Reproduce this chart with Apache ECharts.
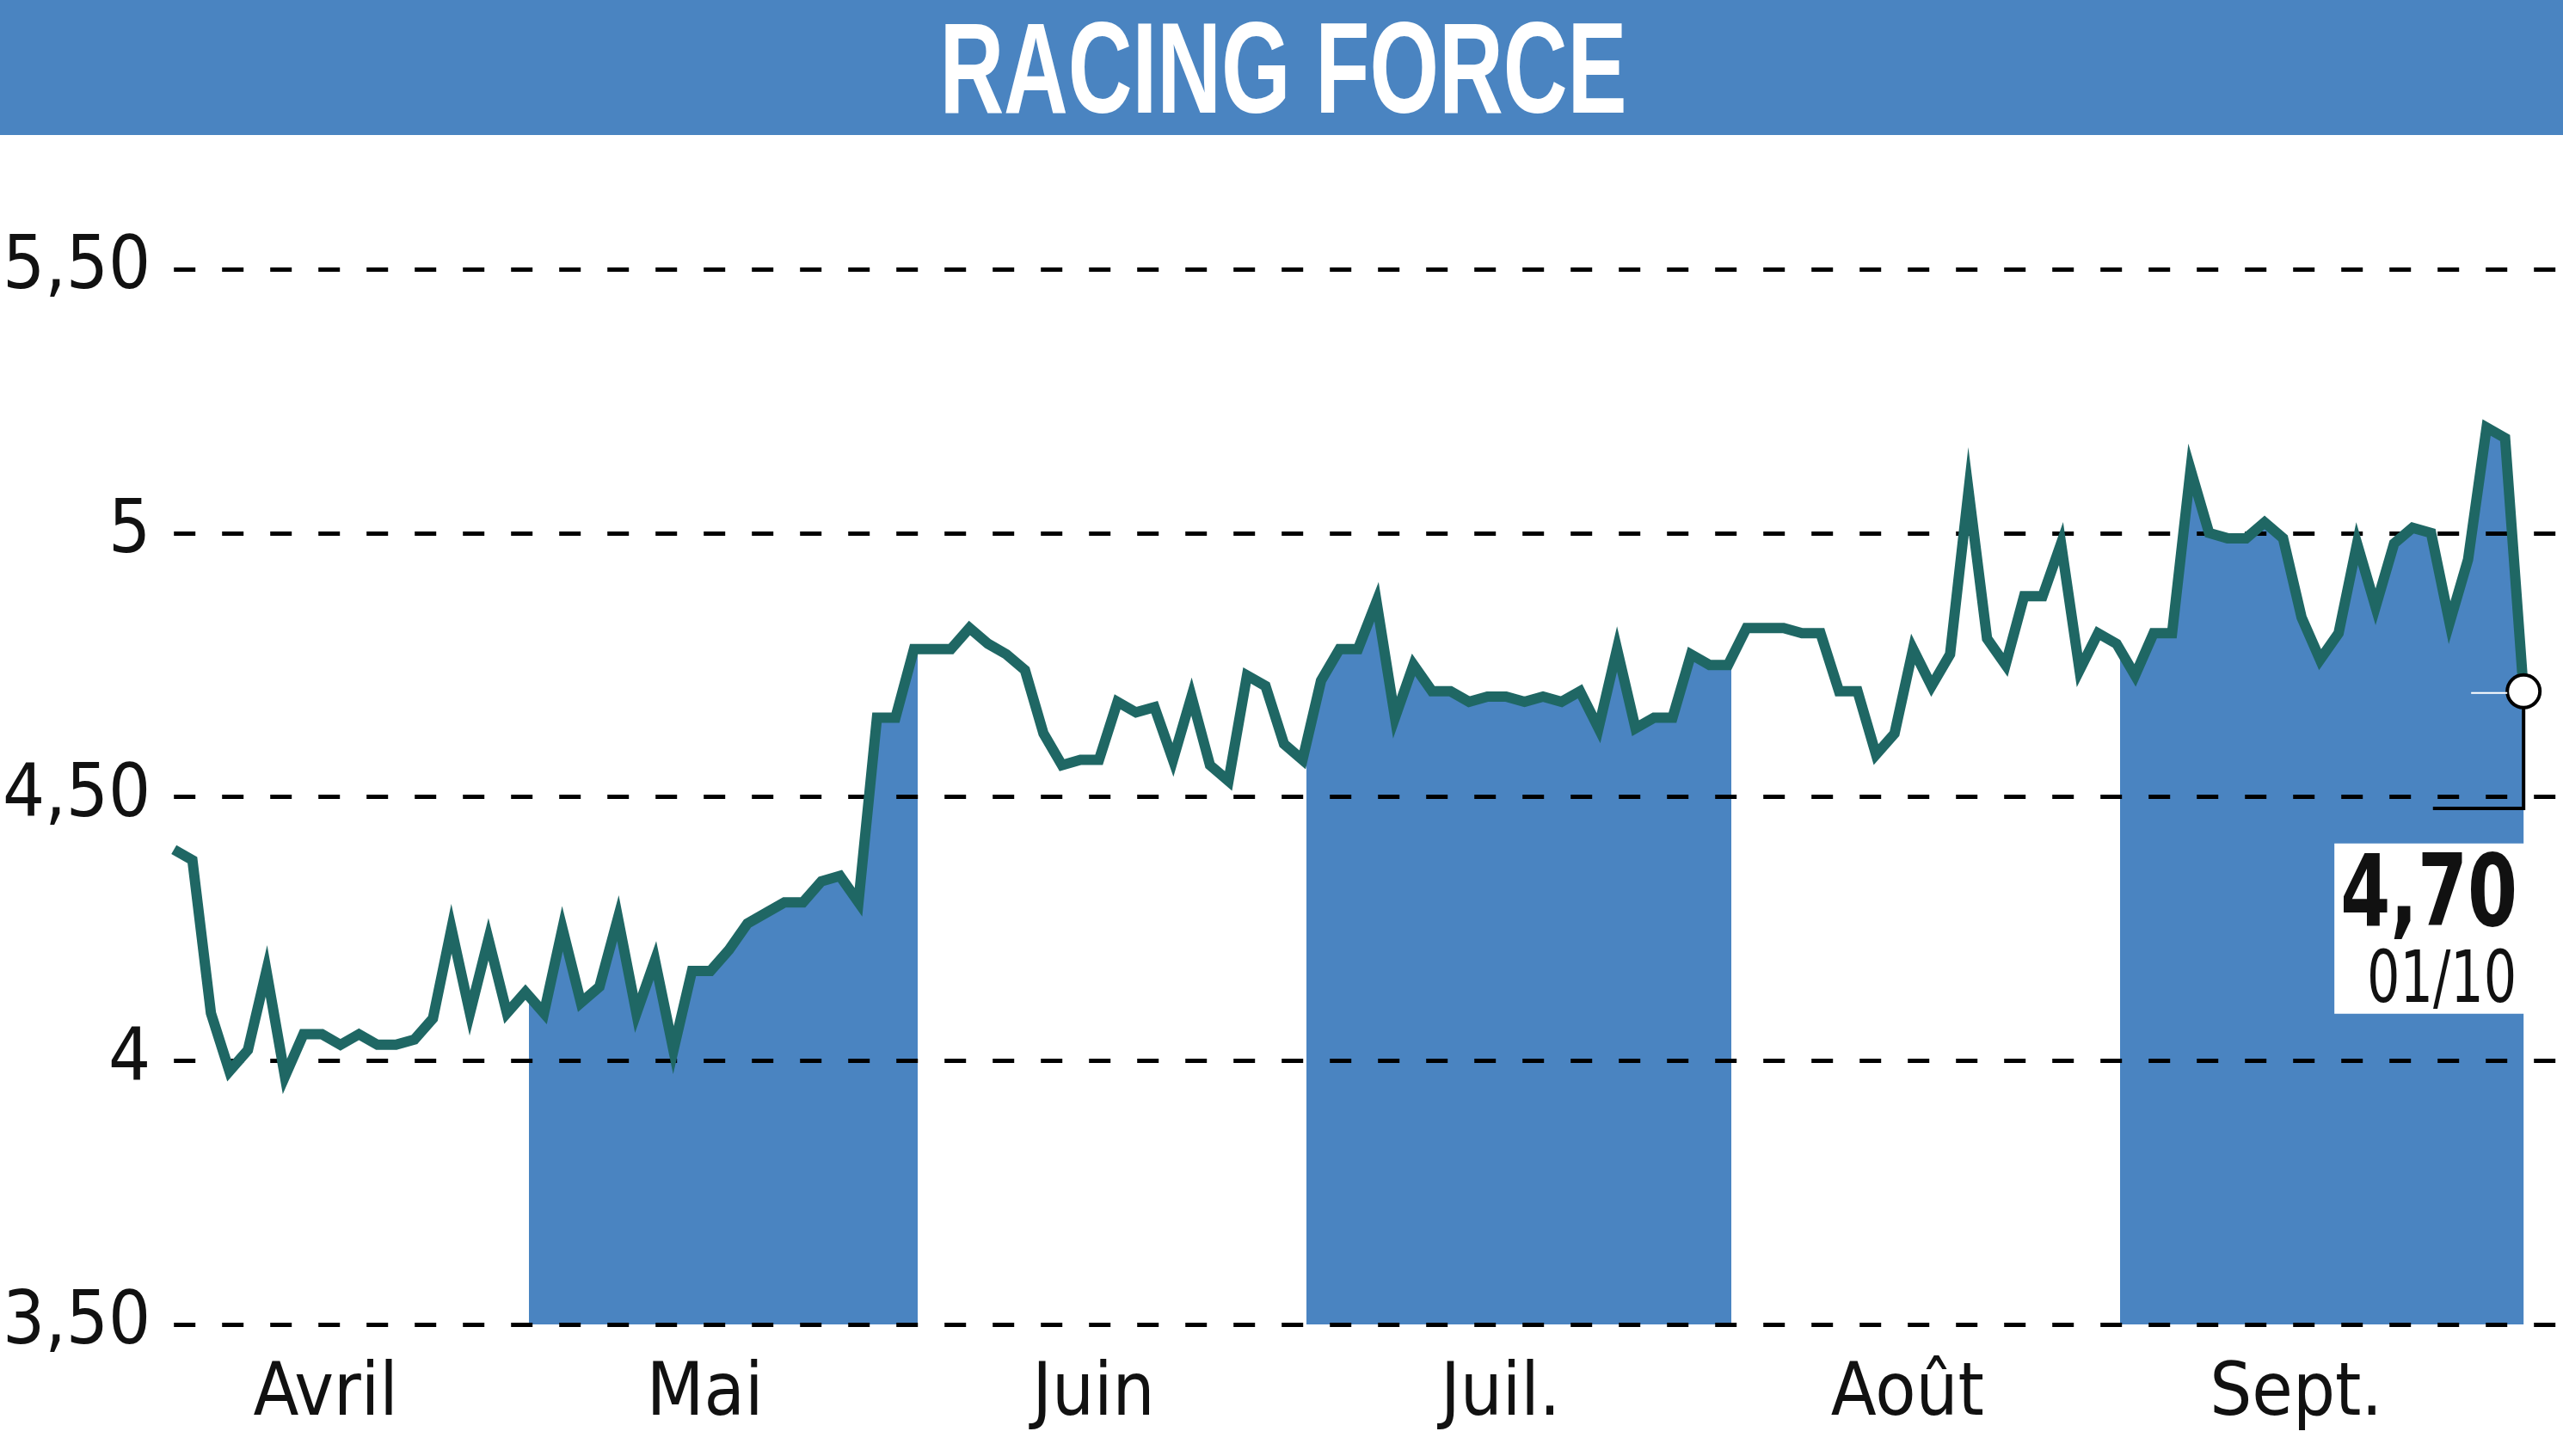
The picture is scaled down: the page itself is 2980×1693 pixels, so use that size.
<!DOCTYPE html>
<html>
<head>
<meta charset="utf-8">
<script src="https://cdn.jsdelivr.net/npm/echarts@6/dist/echarts.min.js"></script>
<style>
html,body{margin:0;padding:0;background:#fff;}
#chart{width:2980px;height:1693px;}
</style>
</head>
<body>
<div id="chart"></div>
<script>
// ---- data (daily closes) ----
const title = 'RACING FORCE';
const monthNames = ['Avril', 'Mai', 'Juin', 'Juil.', 'Août', 'Sept.'];
const april = [4.40, 4.38, 4.09, 3.98, 4.02, 4.17, 3.97, 4.05, 4.05, 4.03, 4.05, 4.03, 4.03, 4.04, 4.08, 4.25, 4.09, 4.23, 4.09, 4.13];
const may = [4.09, 4.25, 4.11, 4.14, 4.27, 4.09, 4.19, 4.02, 4.17, 4.17, 4.21, 4.26, 4.28, 4.30, 4.30, 4.34, 4.35, 4.30, 4.65, 4.65, 4.78];
const june = [4.78, 4.78, 4.82, 4.79, 4.77, 4.74, 4.62, 4.56, 4.57, 4.57, 4.68, 4.66, 4.67, 4.57, 4.69, 4.56, 4.53, 4.73, 4.71, 4.60, 4.57];
const july = [4.72, 4.78, 4.78, 4.87, 4.65, 4.75, 4.70, 4.70, 4.68, 4.69, 4.69, 4.68, 4.69, 4.68, 4.70, 4.63, 4.78, 4.63, 4.65, 4.65, 4.77, 4.75, 4.75];
const august = [4.82, 4.82, 4.82, 4.81, 4.81, 4.70, 4.70, 4.58, 4.62, 4.78, 4.71, 4.77, 5.08, 4.80, 4.75, 4.88, 4.88, 4.98, 4.74, 4.81, 4.79];
const september = [4.73, 4.81, 4.81, 5.12, 5.00, 4.99, 4.99, 5.02, 4.99, 4.84, 4.76, 4.81, 4.98, 4.86, 4.98, 5.01, 5.00, 4.83, 4.95, 5.20, 5.18];
const october = [4.70];
const lastLabel = '4,70';
const lastDate = '01/10';
const yTicks = [3.5, 4, 4.5, 5, 5.5];
const yTickLabels = ['3,50', '4', '4,50', '5', '5,50'];

// ---- build ----
const months = [april, may, june, july, august, september, october];
const values = [].concat(...months);
const points = values.map((v, i) => [i, v]);
const starts = [];
let acc = 0;
months.forEach(m => { starts.push(acc); acc += m.length; });
const lastIdx = values.length - 1;
// shaded months: Mai, Juil., Sept. (+ final October point)
const bands = [
  [starts[1] - 0.8, starts[2] - 0.8],
  [starts[3] - 0.8, starts[4] - 0.8],
  [starts[5] - 0.8, lastIdx + 0.1]
];
const labelPos = [];
const labelMap = {};
for (let m = 0; m < 6; m++) {
  const end = (m === 5) ? starts[6] - 1 : starts[m + 1] - 1;
  const p = (starts[m] + end) / 2 - 1.3;
  labelPos.push(p);
  labelMap[p.toFixed(3)] = monthNames[m];
}

const BLUE = '#4a84c1';
const TEAL = '#1f6764';
const FONT = "'Liberation Sans Narrow', 'DejaVu Sans Condensed', 'Roboto Condensed', 'Liberation Sans', sans-serif";

const chart = echarts.init(document.getElementById('chart'), null, {renderer: 'canvas'});
const baseGraphic = [
  {type: 'rect', left: 0, top: 0, shape: {width: 2980, height: 157}, style: {fill: BLUE}, z: 10},
  {type: 'text', x: 1492, y: 90, scaleX: 0.69, z: 11,
   style: {text: title, fill: '#fff', font: "bold 150px 'Liberation Sans', sans-serif", textAlign: 'center', textVerticalAlign: 'middle'}}
];
const option = {
  animation: false,
  backgroundColor: '#fff',
  grid: {left: 192, right: 0, top: 313, bottom: 153, containLabel: false},
  xAxis: {
    type: 'value', min: 0, max: lastIdx + 2.13,
    axisLine: {show: false}, axisTick: {show: false}, splitLine: {show: false},
    axisLabel: {
      customValues: labelPos,
      formatter: v => labelMap[Number(v).toFixed(3)] || '',
      color: '#111', fontSize: 86, fontFamily: FONT, margin: 40
    }
  },
  yAxis: {
    type: 'value', min: yTicks[0], max: yTicks[yTicks.length - 1], interval: 0.5, z: 2,
    axisLine: {show: false}, axisTick: {show: false},
    splitLine: {show: true, lineStyle: {color: '#000', width: 5, type: [25, 31]}},
    axisLabel: {
      formatter: v => yTickLabels[yTicks.indexOf(Math.round(v * 100) / 100)],
      color: '#111', fontSize: 86, fontFamily: FONT, margin: 27
    }
  },
  visualMap: {
    type: 'piecewise', show: false, dimension: 0, seriesIndex: 0,
    pieces: bands.map(b => ({gte: b[0], lte: b[1], color: BLUE})),
    outOfRange: {color: 'rgba(255,255,255,0)'}
  },
  series: [
    {
      type: 'line', data: points, z: 1, symbol: 'none', silent: true,
      lineStyle: {width: 0, opacity: 0},
      areaStyle: {opacity: 1, origin: 'start'}
    },
    {
      type: 'line', z: 3, symbol: 'none', showSymbol: true,
      data: points.map((p, i) => i === lastIdx ? {value: p, symbol: 'circle', symbolSize: 38, itemStyle: {color: '#fff', borderColor: '#000', borderWidth: 4}} : p),
      lineStyle: {color: TEAL, width: 12, join: 'miter'},
      itemStyle: {color: TEAL}
    }
  ],
  graphic: baseGraphic
};
chart.setOption(option);

// annotation for last value, positioned from the library's scales
const pt = chart.convertToPixel({gridIndex: 0}, points[lastIdx]);
const cornerY = chart.convertToPixel({gridIndex: 0}, [lastIdx, 4.478])[1];
const leftX = chart.convertToPixel({gridIndex: 0}, [lastIdx - 4.9, 4.478])[0];
chart.setOption({
  graphic: baseGraphic.concat([
    {type: 'polyline', z: 4, shape: {points: [[pt[0], pt[1] + 19], [pt[0], cornerY], [leftX, cornerY]]},
     style: {stroke: '#000', lineWidth: 4, fill: null}},
    {type: 'line', z: 4, shape: {x1: pt[0] - 61, y1: pt[1] + 2, x2: pt[0] - 19, y2: pt[1] + 2}, style: {stroke: '#fff', lineWidth: 2}},
    {type: 'rect', z: 5, shape: {x: pt[0] - 220, y: pt[1] + 177, width: 224, height: 198}, style: {fill: '#fff'}},
    {type: 'text', z: 6, x: pt[0] - 7, y: pt[1] + 300, scaleX: 0.8,
     style: {text: lastLabel, fill: '#111', font: "bold 116px " + FONT, textAlign: 'right', textVerticalAlign: 'bottom'}},
    {type: 'text', z: 6, x: pt[0] - 8, y: pt[1] + 381, scaleX: 0.8,
     style: {text: lastDate, fill: '#111', font: "84px " + FONT, textAlign: 'right', textVerticalAlign: 'bottom'}}
  ])
}, {replaceMerge: ['graphic']});
</script>
</body>
</html>
